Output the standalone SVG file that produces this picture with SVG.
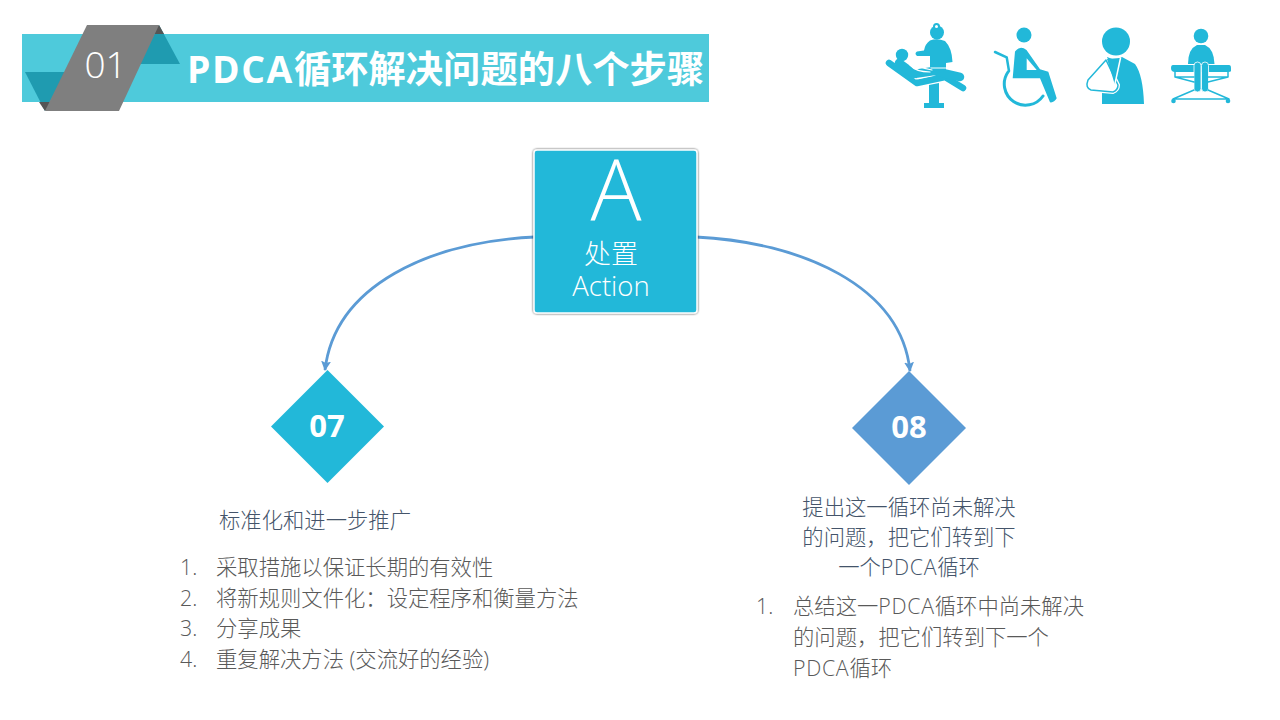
<svg xmlns="http://www.w3.org/2000/svg" width="1280" height="720" viewBox="0 0 1280 720">
<style>
.t{font-family:"Open Sans","Noto Sans CJK SC",sans-serif;font-weight:300}
.h{font-size:21.33px;fill:#44546a;text-anchor:middle}
.b{font-size:21.33px;fill:#595959}
.p{letter-spacing:.7px}
.ic{fill:#22b8d9}
.icl{fill:none;stroke:#22b8d9;stroke-linecap:round;stroke-linejoin:round}
.wl{fill:none;stroke:#fff;stroke-linecap:round;stroke-linejoin:round}
.con{fill:none;stroke:#5b9bd5;stroke-width:2.8}
.n{font-family:"Open Sans","Liberation Sans",sans-serif;font-weight:700;font-size:31px;fill:#fff;text-anchor:middle}
</style>
<defs>
<marker id="ah" markerUnits="userSpaceOnUse" markerWidth="12" markerHeight="12" refX="9" refY="5.500" orient="auto"><path d="M0 0.500L10 5.500L0 10.500L2 5.500Z" fill="#5b9bd5"/></marker>
<filter id="sh" x="-10%" y="-10%" width="120%" height="120%"><feDropShadow dx="0" dy="0" stdDeviation="1" flood-color="#000" flood-opacity=".8"/></filter>
</defs>
<rect width="1280" height="720" fill="#fff"/>
<g id="banner">
<rect x="22" y="34" width="687" height="68" fill="#4ecadb"/>
<path d="M139 64H180L159 25Z" fill="#1f9bb0"/>
<path d="M25 72H66L45 111Z" fill="#1f9bb0"/>
<path d="M159 25L150 34H164Z" fill="#555"/>
<path d="M45 111L39 102H52Z" fill="#555"/>
<path d="M87 25H159L119 111H45Z" fill="#7f7f7f"/>
<text x="105.500" y="77.500" font-family="Open Sans,sans-serif" font-weight="300" font-size="37" fill="#fff" text-anchor="middle">01</text>
<text x="187" y="82.500" font-family="Open Sans,'Noto Sans CJK SC',sans-serif" font-weight="700" font-size="37.300" fill="#fff"><tspan letter-spacing="1.600">PDCA</tspan>循环解决问题的八个步骤</text>
</g>
<g id="icon-dentist">
<circle class="ic" cx="937" cy="32.500" r="7"/>
<circle class="ic" cx="936.500" cy="26.500" r="3.500"/>
<circle cx="936.500" cy="26.500" r="1.500" fill="#fff"/>
<path class="ic" d="M930 40.500Q937 38 945 41Q952 48 952.500 62L946 63L946 72L930 67L930 56L917 56Q914 53.500 917 51.500L924 50.500Q925 44 930 40.500Z"/>
<circle class="ic" cx="902" cy="55" r="6.200"/>
<path class="icl" stroke-width="6.500" d="M889 63L917 83L945 77L963 88"/>
<path class="wl" stroke-width="1.200" d="M896 64L916 79L944 73"/>
<path class="icl" stroke-width="8.500" d="M899 63L914 74L934 71L960 77"/>
<path class="wl" stroke-width="1.200" d="M932 70Q918 68 911 60Q908 59 910 65Q916 72 930 72"/>
<path class="wl" stroke-width="1" d="M931 68H946"/>
<path class="ic" d="M929 85L939 83V103H944V108H924V103H929Z"/>
</g>
<g id="icon-wheelchair">
<circle class="ic" cx="1024" cy="35" r="7.500"/>
<path class="ic" d="M1015 51.500Q1020 45 1026.500 50L1040 69.300L1048.300 71.700L1056.700 98.300Q1054 103 1050 102.300L1040 78.300L1012.700 78.300Z"/>
<path fill="#fff" d="M1026.700 58.300V70H1036.700Z"/>
<path class="icl" stroke-width="2.500" d="M995 52L1006.700 57.300L1009 71"/>
<path class="icl" stroke-width="3" d="M1008 72A20.500 20.500 0 0 0 1043 96"/>
</g>
<g id="icon-sling">
<circle class="ic" cx="1116" cy="41.500" r="14"/>
<path class="ic" d="M1107 57L1115 60L1122 57L1135 64Q1143 75 1144 104H1102V92H1115Z"/>
<path fill="#fff" stroke="#fff" stroke-width="4" d="M1106 60L1088 80Q1085 88 1091 90L1113 92Q1118 90 1118 85Z"/>
<path fill="#fff" stroke="#22b8d9" stroke-width="1.500" stroke-linejoin="round" d="M1106 60L1088 80Q1085 88 1091 90L1113 92Q1118 90 1118 85Z"/>
<path class="ic" d="M1107 59L1120 58L1115 85Z"/>
<path class="wl" stroke-width="1.500" d="M1120.500 58L1114.500 86"/>
</g>
<g id="icon-bed">
<circle class="ic" cx="1201" cy="36" r="7.300"/>
<path class="ic" d="M1197 45H1205Q1214 49 1214.500 64H1188Q1188 49 1197 45Z"/>
<path class="ic" d="M1173 65H1229Q1231 65 1231 68V71Q1231 72 1228 72H1175Q1171 72 1171 68Q1171 65 1173 65Z"/>
<rect class="ic" x="1194" y="62" width="7" height="30" rx="3.500" stroke="#fff" stroke-width=".8"/>
<rect class="ic" x="1201.500" y="62" width="7" height="30" rx="3.500" stroke="#fff" stroke-width=".8"/>
<path class="icl" stroke-width="1.500" d="M1175 72V77L1194 82M1175 77H1194M1228 72V77L1208 82M1228 77H1208M1173 99L1194 90M1229 99L1208 90M1173 99H1229"/>
<circle class="ic" cx="1173.500" cy="101" r="2.300"/>
<circle class="ic" cx="1228" cy="101" r="2.300"/>
</g>
<g id="connectors">
<path class="con" marker-end="url(#ah)" d="M535 237C430 242 335 285 325 370"/>
<path class="con" marker-end="url(#ah)" d="M696 237C800 242 901 285 910 371"/>
</g>
<g id="node-a">
<rect x="534" y="150" width="163" height="163" rx="3" fill="#22b8d9" stroke="#fff" stroke-width="1.500" filter="url(#sh)"/>
<text x="616" y="220" class="t" font-size="85" fill="#fff" text-anchor="middle">A</text>
<text x="611" y="264" class="t" font-size="27" fill="#fff" text-anchor="middle">处置</text>
<text x="611" y="296" class="t" font-size="27.500" fill="#fff" text-anchor="middle">Action</text>
</g>
<g id="node-07">
<path d="M327.500 370L384 426.500L327.500 483L271 426.500Z" fill="#22b8d9"/>
<text x="327" y="437" class="n">07</text>
</g>
<g id="node-08">
<path d="M909 371L966 428L909 485L852 428Z" fill="#5b9bd5"/>
<text x="909" y="438" class="n">08</text>
</g>
<g id="text-07">
<text x="315" y="528" class="t h">标准化和进一步推广</text>
<text x="180" y="575" class="t b">1.</text><text x="216" y="575" class="t b">采取措施以保证长期的有效性</text>
<text x="180" y="606" class="t b">2.</text><text x="216" y="606" class="t b">将新规则文件化：设定程序和衡量方法</text>
<text x="180" y="636" class="t b">3.</text><text x="216" y="636" class="t b">分享成果</text>
<text x="180" y="667" class="t b">4.</text><text x="216" y="667" class="t b">重复解决方法 (交流好的经验)</text>
</g>
<g id="text-08">
<text x="909" y="515" class="t h">提出这一循环尚未解决</text>
<text x="909" y="545" class="t h">的问题，把它们转到下</text>
<text x="909" y="575" class="t h">一个<tspan class="p">PDCA</tspan>循环</text>
<text x="756" y="614" class="t b">1.</text><text x="793" y="614" class="t b">总结这一<tspan class="p">PDCA</tspan>循环中尚未解决</text>
<text x="793" y="645" class="t b">的问题，把它们转到下一个</text>
<text x="793" y="676" class="t b"><tspan class="p">PDCA</tspan>循环</text>
</g>
</svg>
